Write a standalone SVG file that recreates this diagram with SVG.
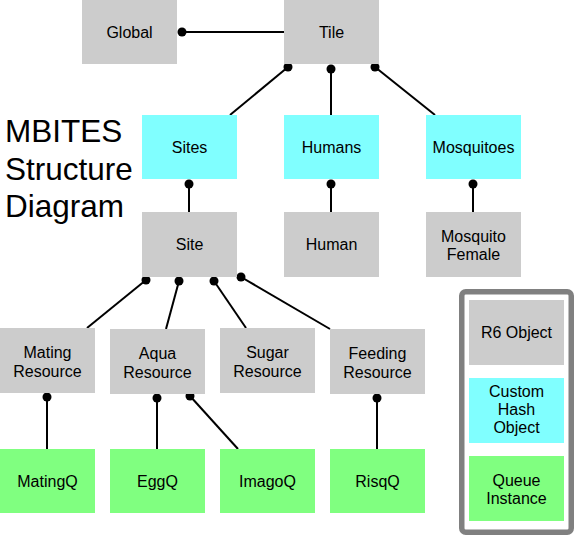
<svg xmlns="http://www.w3.org/2000/svg" width="574" height="535" viewBox="0 0 574 535">
<style>
.r6{fill:#cccccc}
.hash{fill:#80ffff}
.q{fill:#80ff80}
text{font-family:"Liberation Sans",Arial,Helvetica,sans-serif;font-size:16px;fill:#000;text-anchor:middle}
.title{font-size:31.5px;text-anchor:start}
.conn line{stroke:#000;stroke-width:2}
.conn circle{fill:#000}
</style>
<rect width="574" height="535" fill="#ffffff"/>
<text class="title" x="5" y="142">MBITES</text>
<text class="title" x="5" y="180">Structure</text>
<text class="title" x="5" y="217">Diagram</text>

<g id="connectors" class="conn">
<line x1="182" y1="32" x2="284" y2="32"/><circle cx="182" cy="32" r="4.5"/>
<line x1="288" y1="67" x2="230" y2="115"/><circle cx="288" cy="67" r="4.5"/>
<line x1="331" y1="69" x2="331" y2="115"/><circle cx="331" cy="69" r="4.5"/>
<line x1="375" y1="67" x2="435" y2="115"/><circle cx="375" cy="67" r="4.5"/>
<line x1="189" y1="184" x2="189" y2="212"/><circle cx="189" cy="184" r="4.5"/>
<line x1="331" y1="184" x2="331" y2="212"/><circle cx="331" cy="184" r="4.5"/>
<line x1="473" y1="184" x2="473" y2="212"/><circle cx="473" cy="184" r="4.5"/>
<line x1="146" y1="280" x2="87" y2="328"/><circle cx="146" cy="280" r="4.5"/>
<line x1="179" y1="281" x2="166" y2="329"/><circle cx="179" cy="281" r="4.5"/>
<line x1="214" y1="281" x2="246" y2="328"/><circle cx="214" cy="281" r="4.5"/>
<line x1="241" y1="277" x2="330" y2="329"/><circle cx="241" cy="277" r="4.5"/>
<line x1="47" y1="397" x2="47" y2="449"/><circle cx="47" cy="397" r="4.5"/>
<line x1="157" y1="398" x2="157" y2="449"/><circle cx="157" cy="398" r="4.5"/>
<line x1="190" y1="396" x2="238" y2="449"/><circle cx="190" cy="396" r="4.5"/>
<line x1="377" y1="398" x2="377" y2="449"/><circle cx="377" cy="398" r="4.5"/>
</g>

<g id="global"><rect class="r6" x="82" y="0" width="95" height="64"/><text x="129.5" y="37.5">Global</text></g>
<g id="tile"><rect class="r6" x="284" y="0" width="95" height="64"/><text x="331.5" y="37.5">Tile</text></g>
<g id="sites"><rect class="hash" x="142" y="115" width="95" height="64"/><text x="189.5" y="152.5">Sites</text></g>
<g id="humans"><rect class="hash" x="284" y="115" width="95" height="64"/><text x="331.5" y="152.5">Humans</text></g>
<g id="mosquitoes"><rect class="hash" x="426" y="115" width="95" height="64"/><text x="473.5" y="152.5">Mosquitoes</text></g>
<g id="site"><rect class="r6" x="142" y="212" width="95" height="65"/><text x="189.5" y="249.5">Site</text></g>
<g id="human"><rect class="r6" x="284" y="212" width="95" height="65"/><text x="331.5" y="249.5">Human</text></g>
<g id="mosquito-female"><rect class="r6" x="426" y="212" width="95" height="65"/><text x="473.5" y="241.5">Mosquito</text><text x="473.5" y="259.5">Female</text></g>
<g id="mating-resource"><rect class="r6" x="0" y="328" width="95" height="65"/><text x="47.5" y="357.5">Mating</text><text x="47.5" y="376.5">Resource</text></g>
<g id="aqua-resource"><rect class="r6" x="110" y="329" width="95" height="65"/><text x="157.5" y="358.5">Aqua</text><text x="157.5" y="377.5">Resource</text></g>
<g id="sugar-resource"><rect class="r6" x="220" y="328" width="95" height="65"/><text x="267.5" y="357.5">Sugar</text><text x="267.5" y="376.5">Resource</text></g>
<g id="feeding-resource"><rect class="r6" x="330" y="329" width="95" height="65"/><text x="377.5" y="358.5">Feeding</text><text x="377.5" y="377.5">Resource</text></g>
<g id="matingq"><rect class="q" x="0" y="449" width="95" height="64"/><text x="47.5" y="486.5">MatingQ</text></g>
<g id="eggq"><rect class="q" x="110" y="449" width="95" height="64"/><text x="157.5" y="486.5">EggQ</text></g>
<g id="imagoq"><rect class="q" x="220" y="449" width="95" height="64"/><text x="267.5" y="486.5">ImagoQ</text></g>
<g id="risqq"><rect class="q" x="330" y="449" width="95" height="64"/><text x="377.5" y="486.5">RisqQ</text></g>

<g id="legend">
<rect x="461.75" y="291.75" width="109.5" height="240.5" rx="4" fill="#ffffff" stroke="#808080" stroke-width="5.5"/>
<rect class="r6" x="469" y="300" width="95" height="65"/><text x="516.5" y="337.5">R6 Object</text>
<rect class="hash" x="469" y="378" width="95" height="65"/><text x="516.5" y="397">Custom</text><text x="516.5" y="415">Hash</text><text x="516.5" y="433">Object</text>
<rect class="q" x="469" y="456" width="95" height="65"/><text x="516.5" y="485.5">Queue</text><text x="516.5" y="503.5">Instance</text>
</g>
</svg>
